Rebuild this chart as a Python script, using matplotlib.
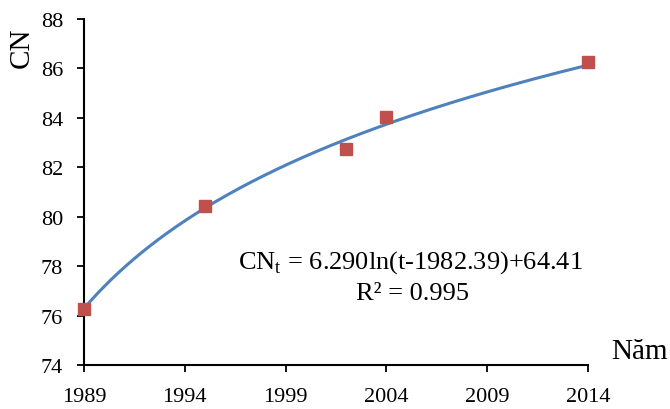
import matplotlib
matplotlib.use('Agg')
import matplotlib.pyplot as plt
import numpy as np

plt.rcParams['font.family'] = ['Liberation Serif', 'DejaVu Serif']
plt.rcParams['mathtext.fontset'] = 'custom'
plt.rcParams['mathtext.rm'] = 'Liberation Serif'

years = [1989, 1995, 2002, 2004, 2014]
cn = [76.25, 80.45, 82.75, 84.05, 86.25]

# trend line coefficients as printed on the chart
coef_a = 6.290
coef_t0 = 1982.39
coef_b = 64.41
x_ticks = [1989, 1994, 1999, 2004, 2009, 2014]
y_ticks = [74, 76, 78, 80, 82, 84, 86, 88]

t = np.linspace(1989, 2014, 300)
trend = coef_a * np.log(t - coef_t0) + coef_b

fig = plt.figure(figsize=(6.7, 4.1), dpi=100)
ax = fig.add_axes([84 / 670, 1 - 366 / 410, 504 / 670, 346 / 410])

ax.plot(t, trend, color='#4F81BD', linewidth=2.2, zorder=2)
ax.plot(years, cn, linestyle='none', marker='s', markersize=8,
        color='#C0504D', zorder=3, clip_on=False)

ax.set_xlim(1989, 2014)
ax.set_ylim(74, 88)
ax.set_xticks(x_ticks)
ax.set_yticks(y_ticks)
ax.tick_params(axis='both', direction='out', length=5, width=1.3,
               labelsize=16, color='black')
ax.tick_params(axis='x', pad=11)
ax.tick_params(axis='y', pad=10)
for side in ['top', 'right']:
    ax.spines[side].set_visible(False)
for side in ['left', 'bottom']:
    ax.spines[side].set_linewidth(1.5)

fig.text(22 / 670, 1 - 48 / 410, 'CN', rotation=90, fontsize=21,
         ha='center', va='center')
fig.text(611 / 670, 1 - 352 / 410, 'Năm', fontsize=21, ha='left', va='center')

fig.text(410 / 670, 1 - 263 / 410, r'CN$_\mathregular{t}$ = 6.290ln(t-1982.39)+64.41',
         fontsize=19, ha='center', va='center')
fig.text(413 / 670, 1 - 294 / 410, 'R² = 0.995', fontsize=19,
         ha='center', va='center')

fig.savefig('out.png', dpi=100)
